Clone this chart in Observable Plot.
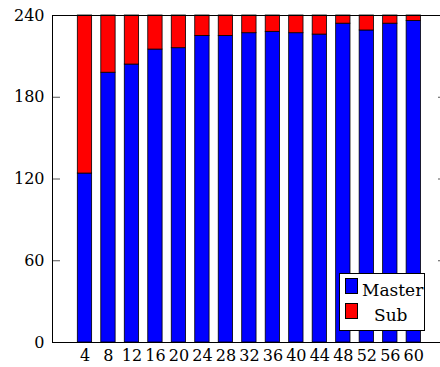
<!DOCTYPE html>
<html><head><meta charset="utf-8">
<script src="https://cdn.jsdelivr.net/npm/d3@7"></script>
<script src="https://cdn.jsdelivr.net/npm/@observablehq/plot@0.6"></script>
<style>
body{margin:0;background:#fff}
#wrap{position:relative;width:440px;height:367px;font-family:"DejaVu Serif",serif;overflow:hidden}
.legend{position:absolute;left:339px;top:273px;width:86px;height:58px;border:1px solid #000;background:#fff;box-sizing:border-box;font-size:17px;color:#000;font-family:"DejaVu Serif",serif}
.sw{position:absolute;left:5px;width:13px;height:16px;border:1px solid #000;box-sizing:border-box}
.lt{position:absolute;line-height:18px}
</style></head><body><div id="wrap"></div>
<script>
const categories = [4, 8, 12, 16, 20, 24, 28, 32, 36, 40, 44, 48, 52, 56, 60];
const master = [124, 198, 204, 215, 216, 225, 225, 227, 228, 227, 226, 234, 229, 234, 236];
const sub = [116, 42, 36, 25, 24, 15, 15, 13, 12, 13, 14, 6, 11, 6, 4];
const seriesNames = ["Master", "Sub"];
const seriesColors = ["#0000ff", "#ff0000"];
const yTicks = [0, 60, 120, 180, 240];

const halfW = 1.22;
const rows = [];
categories.forEach((c, i) => {
  rows.push({x: c, series: "Master", y1: 0, y2: master[i]});
  rows.push({x: c, series: "Sub", y1: master[i], y2: master[i] + sub[i]});
});

const chart = Plot.plot({
  width: 440, height: 367,
  marginLeft: 52, marginRight: -5, marginTop: 15, marginBottom: 25,
  style: {fontFamily: '"DejaVu Serif", serif', fontSize: "16px", color: "#000", background: "#fff", overflow: "visible"},
  x: {type: "linear", domain: [-1.53, 65.4]},
  y: {domain: [0, 240]},
  color: {domain: seriesNames, range: seriesColors},
  marks: [
    Plot.rect(rows, {x1: d => d.x - halfW, x2: d => d.x + halfW, y1: "y1", y2: "y2", fill: "series", stroke: "#000", strokeWidth: 0.8}),
    Plot.axisY(yTicks, {anchor: "left", tickSize: -8, tickPadding: 16, fontSize: 16, stroke: "#555"}),
    Plot.axisY(yTicks, {anchor: "right", tickSize: -8, tickFormat: () => "", stroke: "#555"}),
    Plot.axisX(categories, {anchor: "bottom", tickSize: 0, tickPadding: 7, fontSize: 16}),
    Plot.frame({stroke: "#000"})
  ]
});
const wrap = document.getElementById("wrap");
wrap.appendChild(chart);

const lg = document.createElement("div");
lg.className = "legend";
lg.innerHTML =
  `<div class="sw" style="top:4px;background:${seriesColors[0]}"></div>` +
  `<div class="lt" style="left:22px;top:7px">${seriesNames[0]}</div>` +
  `<div class="sw" style="top:29px;background:${seriesColors[1]}"></div>` +
  `<div class="lt" style="left:34px;top:32px">${seriesNames[1]}</div>`;
wrap.appendChild(lg);
</script></body></html>
